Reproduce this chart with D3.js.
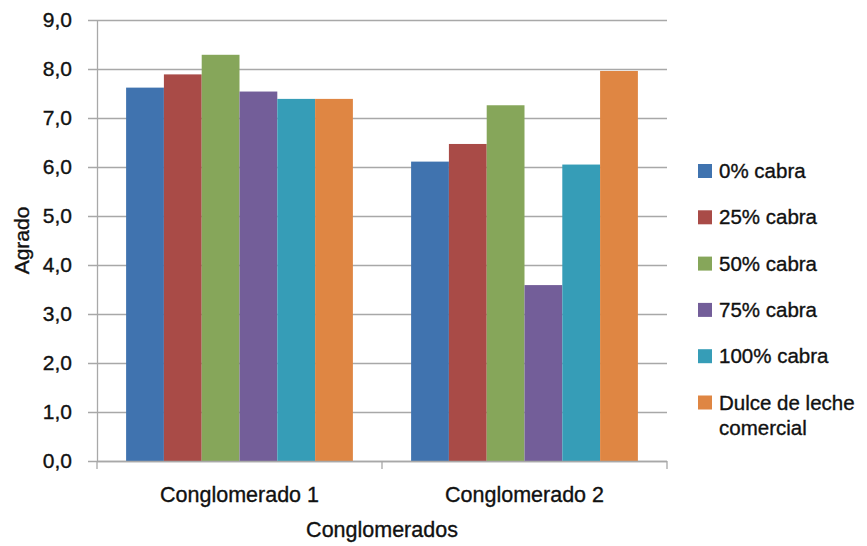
<!DOCTYPE html>
<html>
<head>
<meta charset="utf-8">
<script src="https://cdn.jsdelivr.net/npm/d3@7"></script>
<style>
  body { margin: 0; background: #fff; }
  svg text { font-family: "Liberation Sans", Arial, sans-serif; fill: #111; stroke: #111; stroke-width: 0.35px; }
</style>
</head>
<body>
<div id="chart"></div>
<script>
  // data
  var groups = ["Conglomerado 1", "Conglomerado 2"];
  var seriesNames = ["0% cabra", "25% cabra", "50% cabra", "75% cabra", "100% cabra", "Dulce de leche comercial"];
  var seriesColors = ["#4073AF", "#A94B47", "#86A65A", "#735E99", "#369DB7", "#DF8643"];
  var conglomerado1 = [7.62, 7.89, 8.29, 7.54, 7.39, 7.39];
  var conglomerado2 = [6.11, 6.47, 7.26, 3.59, 6.05, 7.96];
  var yTicks = [0, 1, 2, 3, 4, 5, 6, 7, 8, 9];

  var values = [conglomerado1, conglomerado2];

  var margin = { top: 20, right: 200, bottom: 85, left: 97 },
    width = 867 - margin.left - margin.right,
    height = 546 - margin.top - margin.bottom;

  var svg = d3.select("#chart").append("svg")
    .attr("width", 867)
    .attr("height", 546)
    .append("g")
    .attr("transform", "translate(" + margin.left + "," + margin.top + ")");

  // scales
  var x0 = d3.scaleBand()
    .domain(groups)
    .range([0, width])
    .padding(0);

  var x1 = d3.scaleBand()
    .domain(seriesNames)
    .range([0, x0.bandwidth()])
    .paddingInner(0)
    .paddingOuter(0.77);

  var y = d3.scaleLinear()
    .domain([0, 9])
    .range([height, 0]);

  var color = d3.scaleOrdinal()
    .domain(seriesNames)
    .range(seriesColors);

  // gridlines
  svg.append("g")
    .attr("class", "grid")
    .selectAll("line")
    .data(yTicks)
    .enter()
    .append("line")
    .attr("x1", -9)
    .attr("x2", width)
    .attr("y1", d => y(d) + 0.5)
    .attr("y2", d => y(d) + 0.5)
    .attr("stroke", "#a8a8a8")
    .attr("stroke-width", 1.3);

  // bars
  var groupG = svg.selectAll(".grp")
    .data(groups)
    .enter()
    .append("g")
    .attr("class", "grp")
    .attr("transform", d => "translate(" + x0(d) + ",0)");

  groupG.selectAll("rect")
    .data((g, gi) => seriesNames.map((s, si) => ({ s: s, v: values[gi][si] })))
    .enter()
    .append("rect")
    .attr("x", d => x1(d.s))
    .attr("width", x1.bandwidth())
    .attr("y", d => y(d.v))
    .attr("height", d => y(0) - y(d.v))
    .attr("fill", d => color(d.s));

  // y axis
  var yAxis = d3.axisLeft(y)
    .tickValues(yTicks)
    .tickSize(0)
    .tickPadding(25)
    .tickFormat(d => d3.format(".1f")(d).replace(".", ","));

  var yAxisGroup = svg.append("g").call(yAxis);
  yAxisGroup.select(".domain").attr("stroke", "#a8a8a8").attr("stroke-width", 1.3);
  yAxisGroup.selectAll("text").attr("font-size", "21px").attr("fill", "#111");

  // x axis
  var xAxisGroup = svg.append("g")
    .attr("transform", "translate(0," + height + ")");

  xAxisGroup.append("line")
    .attr("x1", 0).attr("x2", width)
    .attr("y1", 0.5).attr("y2", 0.5)
    .attr("stroke", "#a8a8a8").attr("stroke-width", 1.3);

  xAxisGroup.selectAll(".xtick")
    .data([0, 1, 2])
    .enter()
    .append("line")
    .attr("x1", d => d * x0.step())
    .attr("x2", d => d * x0.step())
    .attr("y1", 0).attr("y2", 8)
    .attr("stroke", "#a8a8a8").attr("stroke-width", 1.3);

  xAxisGroup.selectAll(".xlab")
    .data(groups)
    .enter()
    .append("text")
    .attr("x", d => x0(d) + x0.bandwidth() / 2)
    .attr("y", 41)
    .attr("text-anchor", "middle")
    .attr("font-size", "21.5px")
    .text(d => d);

  // axis titles
  svg.append("text")
    .attr("x", width / 2)
    .attr("y", height + 76)
    .attr("text-anchor", "middle")
    .attr("font-size", "21.5px")
    .text("Conglomerados");

  svg.append("text")
    .attr("transform", "rotate(-90)")
    .attr("x", -height / 2)
    .attr("y", -68)
    .attr("text-anchor", "middle")
    .attr("font-size", "21px")
    .text("Agrado");

  // legend
  var legend = d3.select("svg").append("g")
    .attr("transform", "translate(698,164)");

  var item = legend.selectAll(".item")
    .data(seriesNames)
    .enter()
    .append("g")
    .attr("transform", (d, i) => "translate(0," + (i * 46.3) + ")");

  item.append("rect")
    .attr("width", 14)
    .attr("height", 14)
    .attr("fill", d => color(d));

  item.append("text")
    .attr("x", 21)
    .attr("y", 14)
    .attr("font-size", "20.5px")
    .each(function(d) {
      var t = d3.select(this);
      if (d === "Dulce de leche comercial") {
        t.append("tspan").attr("x", 21).text("Dulce de leche");
        t.append("tspan").attr("x", 21).attr("dy", 25).text("comercial");
      } else {
        t.text(d);
      }
    });
</script>
</body>
</html>
